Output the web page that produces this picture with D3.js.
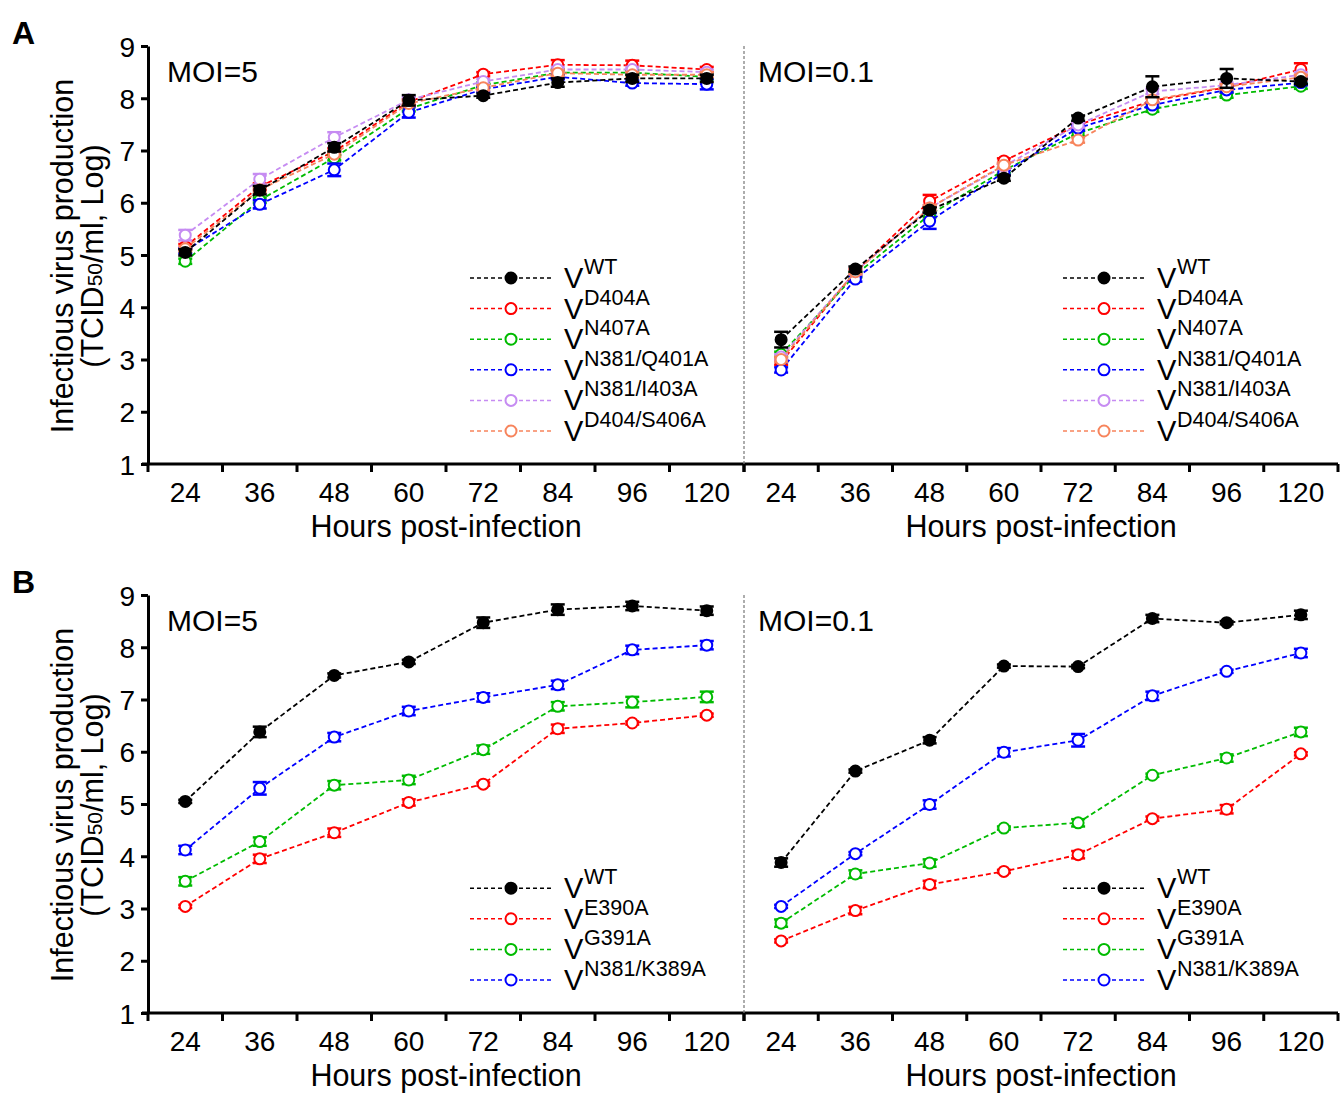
<!DOCTYPE html>
<html><head><meta charset="utf-8">
<script src="https://cdn.jsdelivr.net/npm/d3@7"></script>
<style>
body{margin:0;background:#fff}
text{font-family:"Liberation Sans",Arial,sans-serif;fill:#000}
</style>
</head><body>
<svg id="c" width="1341" height="1093"></svg>
<script>
// ---------- data ----------
const hours = ["24","36","48","60","72","84","96","120"];
const yTicks = [1,2,3,4,5,6,7,8,9];

const seriesA = ["WT","D404A","N407A","N381/Q401A","N381/I403A","D404/S406A"];
const colorsA = ["#000000","#ff0000","#00bb00","#0000ff","#c68cf2","#f7845c"];
const seriesB = ["WT","E390A","G391A","N381/K389A"];
const colorsB = ["#000000","#ff0000","#00bb00","#0000ff"];

// Panel A, MOI=5 (rows follow seriesA order)
const aMoi5 = [
  [5.05, 6.24, 7.06, 7.96, 8.05, 8.30, 8.38, 8.38],
  [5.16, 6.31, 6.98, 7.93, 8.46, 8.64, 8.63, 8.55],
  [4.88, 6.05, 6.86, 7.80, 8.25, 8.49, 8.49, 8.41],
  [5.08, 5.97, 6.63, 7.73, 8.17, 8.41, 8.29, 8.27],
  [5.38, 6.45, 7.25, 7.97, 8.32, 8.55, 8.55, 8.50],
  [5.12, 6.25, 6.93, 7.90, 8.20, 8.48, 8.45, 8.45]
];
const aMoi5Err = [
  [0.06, 0.08, 0.08, 0.10, 0.04, 0.08, 0.07, 0.07],
  [0.05, 0.06, 0.06, 0.05, 0.04, 0.09, 0.09, 0.05],
  [0.05, 0.05, 0.05, 0.05, 0.05, 0.05, 0.05, 0.05],
  [0.05, 0.08, 0.12, 0.10, 0.05, 0.05, 0.05, 0.10],
  [0.10, 0.10, 0.10, 0.05, 0.05, 0.05, 0.05, 0.05],
  [0.05, 0.05, 0.05, 0.05, 0.05, 0.05, 0.05, 0.05]
];
// Panel A, MOI=0.1
const aMoi01 = [
  [3.38, 4.73, 5.86, 6.47, 7.62, 8.22, 8.38, 8.32],
  [2.95, 4.68, 6.03, 6.80, 7.49, 7.95, 8.21, 8.55],
  [3.10, 4.62, 5.77, 6.62, 7.33, 7.79, 8.06, 8.23],
  [2.80, 4.54, 5.65, 6.58, 7.43, 7.87, 8.16, 8.30],
  [3.05, 4.68, 5.90, 6.70, 7.49, 8.13, 8.25, 8.45],
  [3.00, 4.68, 5.90, 6.72, 7.20, 7.97, 8.22, 8.40]
];
const aMoi01Err = [
  [0.15, 0.05, 0.05, 0.05, 0.05, 0.20, 0.18, 0.05],
  [0.05, 0.05, 0.12, 0.05, 0.05, 0.05, 0.05, 0.12],
  [0.05, 0.05, 0.05, 0.05, 0.05, 0.05, 0.05, 0.05],
  [0.05, 0.05, 0.15, 0.05, 0.05, 0.05, 0.05, 0.05],
  [0.05, 0.05, 0.05, 0.05, 0.05, 0.05, 0.05, 0.05],
  [0.05, 0.05, 0.05, 0.05, 0.05, 0.05, 0.05, 0.05]
];
// Panel B, MOI=5 (rows follow seriesB order)
const bMoi5 = [
  [5.05, 6.38, 7.46, 7.72, 8.47, 8.72, 8.79, 8.70],
  [3.04, 3.95, 4.45, 5.03, 5.38, 6.44, 6.55, 6.70],
  [3.52, 4.28, 5.36, 5.46, 6.04, 6.87, 6.95, 7.05],
  [4.12, 5.30, 6.28, 6.78, 7.04, 7.28, 7.95, 8.04]
];
const bMoi5Err = [
  [0.03, 0.10, 0.04, 0.04, 0.10, 0.10, 0.08, 0.08],
  [0.03, 0.08, 0.08, 0.06, 0.03, 0.08, 0.03, 0.03],
  [0.08, 0.08, 0.08, 0.08, 0.08, 0.08, 0.10, 0.10],
  [0.08, 0.12, 0.08, 0.08, 0.08, 0.08, 0.08, 0.08]
];
// Panel B, MOI=0.1
const bMoi01 = [
  [3.88, 5.63, 6.22, 7.64, 7.63, 8.55, 8.47, 8.62],
  [2.38, 2.96, 3.46, 3.71, 4.03, 4.72, 4.90, 5.96],
  [2.72, 3.66, 3.87, 4.54, 4.64, 5.55, 5.88, 6.38],
  [3.04, 4.05, 4.99, 5.99, 6.22, 7.07, 7.54, 7.89]
];
const bMoi01Err = [
  [0.08, 0.03, 0.06, 0.03, 0.03, 0.07, 0.03, 0.08],
  [0.03, 0.07, 0.07, 0.03, 0.07, 0.04, 0.08, 0.03],
  [0.07, 0.07, 0.07, 0.03, 0.07, 0.03, 0.07, 0.08],
  [0.03, 0.03, 0.08, 0.08, 0.12, 0.08, 0.03, 0.08]
];

// ---------- drawing ----------
const svg = d3.select("#c");
const X0 = 148, XM = 744, X1 = 1338;

function drawPanel(letter, top, names, colors, leftVals, leftErr, rightVals, rightErr) {
  const bottom = top + 418;
  const y = d3.scaleLinear().domain([1, 9]).range([bottom, top]);
  const xL = d3.scaleBand().domain(hours).range([X0, XM]);
  const xR = d3.scaleBand().domain(hours).range([XM, X1]);
  const g = svg.append("g");

  // panel letter
  g.append("text").attr("x", 12).attr("y", top - 2)
    .style("font-size", "32px").style("font-weight", "bold").text(letter);

  // y axis
  const ya = g.append("g").attr("transform", `translate(${X0},0)`)
    .call(d3.axisLeft(y).tickValues(yTicks).tickSize(7).tickSizeOuter(0).tickPadding(6).tickFormat(d3.format("d")));
  ya.attr("font-family", null).attr("font-size", null);
  ya.select(".domain").attr("stroke", "#000").attr("stroke-width", 3);
  ya.selectAll(".tick line").attr("stroke", "#000").attr("stroke-width", 3);
  ya.selectAll(".tick text").style("font-size", "28px").attr("dy", "0.36em");

  // y title
  const yc = (top + bottom) / 2 + 1;
  g.append("text").attr("transform", `translate(62,${yc}) rotate(-90)`)
    .attr("text-anchor", "middle").attr("dominant-baseline", "central")
    .style("font-size", "30.5px").text("Infectious virus production");
  const t2 = g.append("text").attr("transform", `translate(92,${yc}) rotate(-90)`)
    .attr("text-anchor", "middle").attr("dominant-baseline", "central")
    .style("font-size", "30.5px");
  t2.append("tspan").text("(TCID");
  t2.append("tspan").style("font-size", "21px").attr("dy", 2).text("50");
  t2.append("tspan").attr("dy", -2).text("/ml, Log)");

  // x axis line
  g.append("line").attr("x1", X0 - 6).attr("x2", X1).attr("y1", bottom).attr("y2", bottom)
    .attr("stroke", "#000").attr("stroke-width", 3);

  // divider
  g.append("line").attr("x1", XM).attr("x2", XM).attr("y1", top).attr("y2", bottom)
    .attr("stroke", "#777").attr("stroke-width", 1.2).attr("stroke-dasharray", "3,2");

  const halves = [
    {x: xL, vals: leftVals, err: leftErr, moi: "MOI=5"},
    {x: xR, vals: rightVals, err: rightErr, moi: "MOI=0.1"}
  ];
  halves.forEach(h => {
    const x = h.x, bw = x.bandwidth();
    const left = x.range()[0];
    // boundary ticks
    const tickPos = hours.map(d => x(d)).concat([x.range()[1]]);
    g.selectAll(null).data(tickPos).enter().append("line")
      .attr("x1", d => d).attr("x2", d => d)
      .attr("y1", bottom).attr("y2", bottom + 8)
      .attr("stroke", "#000").attr("stroke-width", 3);
    // tick labels
    g.selectAll(null).data(hours).enter().append("text")
      .attr("x", d => x(d) + bw / 2).attr("y", bottom + 28)
      .attr("text-anchor", "middle").attr("dominant-baseline", "central")
      .style("font-size", "28px").text(d => d);
    // x title
    g.append("text").attr("x", (x.range()[0] + x.range()[1]) / 2).attr("y", bottom + 62)
      .attr("text-anchor", "middle").attr("dominant-baseline", "central")
      .style("font-size", "30.5px").text("Hours post-infection");
    // MOI label
    g.append("text").attr("x", left + (left === X0 ? 19 : 14)).attr("y", top + 36)
      .style("font-size", "30px").text(h.moi);

    const line = d3.line().x((v, i) => x(hours[i]) + bw / 2).y(v => y(v));
    // draw non-WT first, WT last
    const order = d3.range(1, names.length).concat([0]);
    order.forEach(si => {
      const col = colors[si];
      const vals = h.vals[si], errs = h.err[si];
      const sg = g.append("g");
      sg.append("path").attr("d", line(vals)).attr("fill", "none")
        .attr("stroke", col).attr("stroke-width", 1.8).attr("stroke-dasharray", "5,3");
      const pts = vals.map((v, i) => ({v, e: errs[i], cx: x(hours[i]) + bw / 2}));
      // error bars
      const eb = sg.selectAll(null).data(pts).enter().append("g");
      eb.append("line").attr("x1", d => d.cx).attr("x2", d => d.cx)
        .attr("y1", d => y(d.v - d.e)).attr("y2", d => y(d.v + d.e))
        .attr("stroke", col).attr("stroke-width", 2);
      [1, -1].forEach(s => {
        eb.append("line").attr("x1", d => d.cx - 7).attr("x2", d => d.cx + 7)
          .attr("y1", d => y(d.v + s * d.e)).attr("y2", d => y(d.v + s * d.e))
          .attr("stroke", col).attr("stroke-width", 2.5);
      });
      sg.selectAll(null).data(pts).enter().append("circle")
        .attr("cx", d => d.cx).attr("cy", d => y(d.v)).attr("r", 5.5)
        .attr("fill", si === 0 ? "#000" : "#fff")
        .attr("stroke", col).attr("stroke-width", 2);
    });

    // legend
    const lx = left + (left === X0 ? 322 : 319);
    const n = names.length;
    names.forEach((nm, i) => {
      const ry = top + 385 - (n - 1 - i) * 30.6;
      const col = colors[i];
      g.append("line").attr("x1", lx).attr("x2", lx + 82).attr("y1", ry).attr("y2", ry)
        .attr("stroke", col).attr("stroke-width", 1.5).attr("stroke-dasharray", "4,3");
      g.append("circle").attr("cx", lx + 41).attr("cy", ry).attr("r", 5.5)
        .attr("fill", i === 0 ? "#000" : "#fff").attr("stroke", col).attr("stroke-width", 2);
      g.append("text").attr("x", lx + 94).attr("y", ry + 10).style("font-size", "29px").text("V");
      g.append("text").attr("x", lx + 114).attr("y", ry - 4).style("font-size", "21.5px").text(nm);
    });
  });
}

drawPanel("A", 46, seriesA, colorsA, aMoi5, aMoi5Err, aMoi01, aMoi01Err);
drawPanel("B", 595, seriesB, colorsB, bMoi5, bMoi5Err, bMoi01, bMoi01Err);
</script>
</body></html>
